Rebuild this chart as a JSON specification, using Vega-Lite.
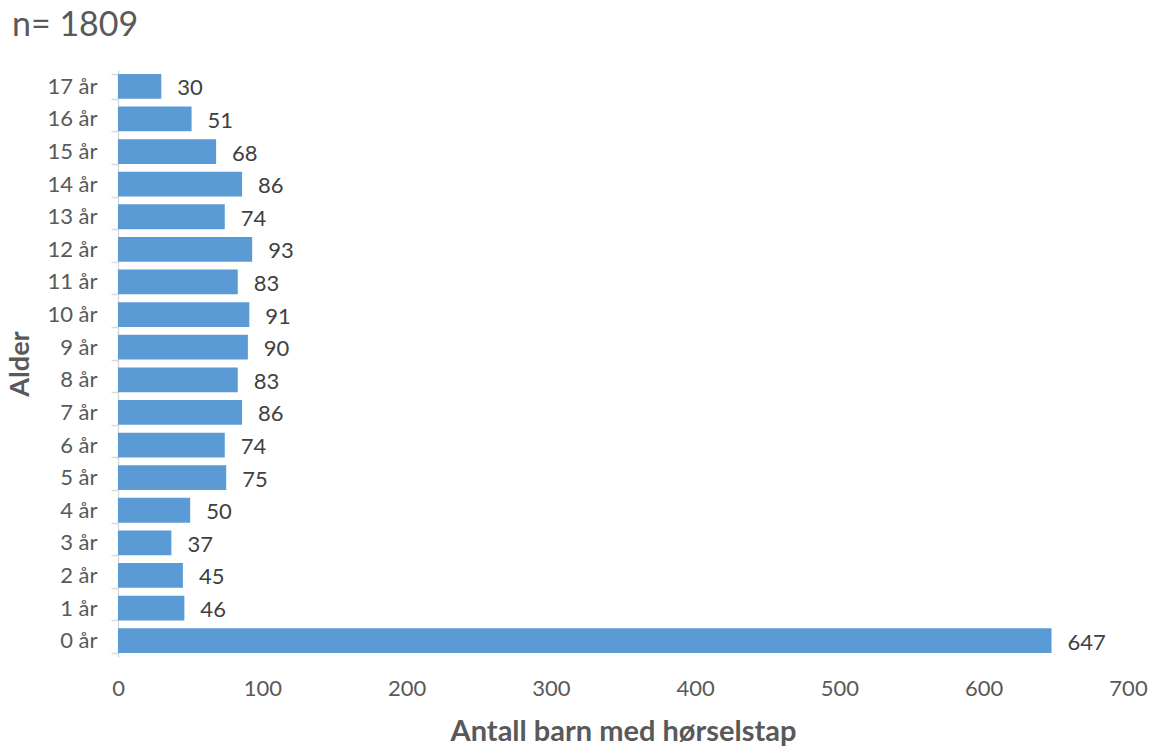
{
  "$schema": "https://vega.github.io/schema/vega-lite/v6.json",
  "autosize": "none",
  "width": 1010,
  "height": 587,
  "padding": {"left": 118, "top": 70, "right": 28, "bottom": 91},
  "background": "white",
  "title": {
    "text": "n= 1809",
    "anchor": "start",
    "frame": "group",
    "dx": -106,
    "offset": 16,
    "fontSize": 34,
    "font": "Lato",
    "fontWeight": "normal",
    "color": "#595959"
  },
  "data": {
    "values": [
      {"alder": "0 år", "k": 0, "antall": 647},
      {"alder": "1 år", "k": 1, "antall": 46},
      {"alder": "2 år", "k": 2, "antall": 45},
      {"alder": "3 år", "k": 3, "antall": 37},
      {"alder": "4 år", "k": 4, "antall": 50},
      {"alder": "5 år", "k": 5, "antall": 75},
      {"alder": "6 år", "k": 6, "antall": 74},
      {"alder": "7 år", "k": 7, "antall": 86},
      {"alder": "8 år", "k": 8, "antall": 83},
      {"alder": "9 år", "k": 9, "antall": 90},
      {"alder": "10 år", "k": 10, "antall": 91},
      {"alder": "11 år", "k": 11, "antall": 83},
      {"alder": "12 år", "k": 12, "antall": 93},
      {"alder": "13 år", "k": 13, "antall": 74},
      {"alder": "14 år", "k": 14, "antall": 86},
      {"alder": "15 år", "k": 15, "antall": 68},
      {"alder": "16 år", "k": 16, "antall": 51},
      {"alder": "17 år", "k": 17, "antall": 30}
    ]
  },
  "encoding": {
    "y": {
      "field": "alder",
      "type": "nominal",
      "sort": {"field": "k", "order": "descending"},
      "scale": {"paddingInner": 0.24, "paddingOuter": 0.12},
      "axis": {
        "title": "Alder",
        "titleFont": "Lato",
        "titleFontSize": 27,
        "titleFontWeight": "bold",
        "titleColor": "#595959",
        "titlePadding": 12,
        "labelFont": "Lato",
        "labelFontSize": 22,
        "labelColor": "#595959",
        "labelPadding": 14,
        "domainColor": "#d9d9d9",
        "domainWidth": 1.5,
        "tickColor": "#d9d9d9",
        "tickWidth": 1.5,
        "tickSize": 7,
        "tickBand": "extent",
        "grid": false
      }
    },
    "x": {
      "field": "antall",
      "type": "quantitative",
      "scale": {"domain": [0, 700], "nice": false},
      "axis": {
        "title": "Antall barn med hørselstap",
        "titleFont": "Lato",
        "titleFontSize": 29,
        "titleFontWeight": "bold",
        "titleColor": "#595959",
        "titlePadding": 18,
        "values": [0, 100, 200, 300, 400, 500, 600, 700],
        "labelFont": "Lato",
        "labelFontSize": 22,
        "labelColor": "#595959",
        "labelPadding": 21,
        "labelFlush": false,
        "domain": false,
        "ticks": false,
        "grid": false
      }
    }
  },
  "layer": [
    {"mark": {"type": "bar", "color": "#5B9BD5"}},
    {
      "mark": {"type": "text", "align": "left", "dx": 16, "dy": 2, "font": "Lato", "fontSize": 22, "color": "#404040"},
      "encoding": {"text": {"field": "antall", "type": "quantitative"}}
    }
  ],
  "config": {"view": {"stroke": null}}
}
